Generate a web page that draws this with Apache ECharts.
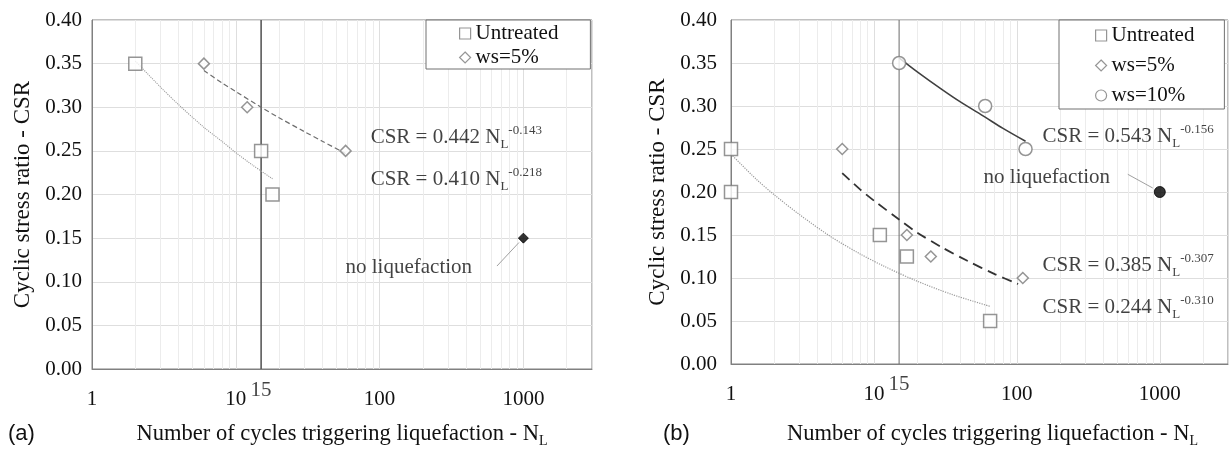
<!DOCTYPE html>
<html><head><meta charset="utf-8">
<script src="https://cdn.jsdelivr.net/npm/echarts@6/dist/echarts.min.js"></script>
<style>html,body{margin:0;padding:0;background:#fff;width:1230px;height:453px;overflow:hidden}
#a,#b{position:absolute;top:0;width:615px;height:453px}#a{left:0}#b{left:615px}</style>
</head><body><div id="a"></div><div id="b"></div>
<script>
// ---------- data: panel (a) ----------
const aUntreated = [[2, 0.35], [15, 0.25], [18, 0.20]];
const aWs5 = [[6, 0.35], [12, 0.30], [58, 0.25]];
const aNoLiq = [[1000, 0.15]];
const aTrendUntreated = [[2, 0.353], [3, 0.323], [4, 0.303], [6, 0.277], [8, 0.261], [10, 0.248], [13, 0.234], [18, 0.218]];
const aTrendWs5 = [[6, 0.342], [8, 0.328], [10, 0.318], [15, 0.300], [20, 0.288], [30, 0.272], [40, 0.261], [58, 0.247]];
const aEqCoef = ['0.442', '0.410'];
const aEqExp = ['-0.143', '-0.218'];
const aEqAnchor = [[86, 0.265], [86, 0.217]];
const aNoLiqAnchor = [57.5, 0.116];
const aLeader = [[655, 0.118], [932, 0.145]];
// ---------- data: panel (b) ----------
const bUntreated = [[1, 0.25], [1, 0.20], [11, 0.15], [17, 0.125], [65, 0.05]];
const bWs5 = [[6, 0.25], [17, 0.15], [25, 0.125], [110, 0.10]];
const bWs10 = [[15, 0.35], [60, 0.30], [115, 0.25]];
const bNoLiq = [[1000, 0.20]];
const bTrendUntreated = [[1, 0.244], [1.5, 0.215], [2, 0.197], [3, 0.174], [5, 0.148], [8, 0.128], [12, 0.113], [20, 0.0964], [35, 0.081], [65, 0.067]];
const bTrendWs5 = [[6, 0.222], [8, 0.203], [10, 0.190], [15, 0.168], [20, 0.153], [30, 0.1355], [45, 0.120], [70, 0.1045], [102, 0.093]];
const bTrendWs10 = [[15, 0.356], [20, 0.340], [30, 0.319], [40, 0.305], [60, 0.287], [80, 0.274], [115, 0.259]];
const bEqCoef = ['0.543', '0.385', '0.244'];
const bEqExp = ['-0.156', '-0.307', '-0.310'];
const bEqAnchor = [[150, 0.265], [150, 0.114], [150, 0.066]];
const bNoLiqAnchor = [58, 0.217];
const bLeader = [[597, 0.2206], [893, 0.2046]];
// ---------- axes ----------
const xTickLabels = [1, 10, 100, 1000];
const xMin = 1, xMax = 3000;
const yMin = 0, yMax = 0.4, yStep = 0.05;
const minorX = [2, 3, 4, 5, 6, 7, 8, 9, 20, 30, 40, 50, 60, 70, 80, 90, 200, 300, 400, 500, 600, 700, 800, 900, 2000];
const markN = 15;
const xTitle = 'Number of cycles triggering liquefaction - N';
const yTitle = 'Cyclic stress ratio - CSR';

const serif = '"Liberation Serif","Times New Roman",serif';
const sans = '"Liberation Sans",Arial,sans-serif';
const txt = '#111';
const richEq = {
  m: {fontFamily: serif, fontSize: 21, lineHeight: 24, color: txt},
  s: {fontFamily: serif, fontSize: 13, lineHeight: 13, padding: [14, 0, 0, 0], color: txt},
  p: {fontFamily: serif, fontSize: 13, lineHeight: 13, padding: [0, 0, 14, 0], color: txt}
};

function makeOption(P) {
  const series = [];
  series.push({type: 'line', data: [[1, 0]], symbol: 'none', silent: true, z: 1, lineStyle: {width: 0},
    markLine: {silent: true, z: 1, symbol: ['none', 'none'], animation: false, label: {show: false},
      lineStyle: {color: '#ececec', width: 1, type: 'solid'}, data: minorX.map(v => ({xAxis: v}))}});
  series.push({type: 'line', data: [[markN, yMin], [markN, yMax]], symbol: 'none', silent: true, z: 2,
    lineStyle: {color: P.vColor, width: P.vWidth}});
  P.trends.forEach(t => series.push({type: 'line', data: t.data, smooth: 0.3, symbol: 'none', silent: true, z: 3, lineStyle: t.style}));
  P.scatters.forEach(s => series.push({name: s.name, type: 'scatter', data: s.data, symbol: s.symbol, symbolSize: s.size, z: 5,
    itemStyle: {color: '#fff', borderColor: '#7a7a7a', borderWidth: 1.5}}));
  series.push({type: 'line', data: P.leader, symbol: 'none', silent: true, z: 3, lineStyle: {color: '#a0a0a0', width: 1}});
  series.push({type: 'scatter', data: P.noLiq, symbol: P.noLiqSymbol, symbolSize: P.noLiqSize, z: 6,
    itemStyle: {color: '#000', borderColor: '#000', borderWidth: 1}});
  const ann = [];
  P.eqAnchor.forEach((a, i) => ann.push({value: a, label: {formatter: '{m|CSR = ' + P.eqCoef[i] + ' N}{s|L}{p|' + P.eqExp[i] + '}', rich: richEq}}));
  ann.push({value: P.noLiqAnchor, label: {formatter: '{m|no liquefaction}', rich: richEq}});
  series.push({type: 'scatter', data: ann, symbolSize: 1, z: 7, silent: true, itemStyle: {color: 'rgba(0,0,0,0)'},
    label: {show: true, position: 'right', distance: 0}});
  series.push({type: 'scatter', data: [[markN, yMin]], symbolSize: 1, z: 7, silent: true, clip: false, itemStyle: {color: 'rgba(0,0,0,0)'},
    label: {show: true, position: 'bottom', distance: P.markLabelDist, formatter: String(markN), fontFamily: serif, fontSize: 21, color: txt}});
  return {
    animation: false,
    backgroundColor: '#fff',
    grid: {left: P.grid[0], top: P.grid[1], width: P.grid[2], height: P.grid[3], show: true, borderColor: '#808080', borderWidth: 1, backgroundColor: 'rgba(0,0,0,0)'},
    legend: {orient: 'vertical', left: P.legend.left, top: P.grid[1], padding: P.legend.padding, itemGap: P.legend.gap, z: 20,
      itemWidth: 11, itemHeight: 11, backgroundColor: '#fff', borderColor: '#707070', borderWidth: 1, selectedMode: false,
      textStyle: {fontFamily: serif, fontSize: 21, color: txt}, data: P.legend.items},
    graphic: [{type: 'text', left: P.tag[0], top: P.tag[1], style: {text: P.tag[2], font: '22px ' + sans, fill: '#111'}}],
    xAxis: {type: 'log', logBase: 10, min: xMin, max: xMax,
      name: '{m|' + xTitle + '}{s|L}', nameLocation: 'middle', nameGap: P.xNameGap,
      nameTextStyle: {padding: P.xNamePad, rich: {m: {fontFamily: serif, fontSize: 22.5, lineHeight: 25, color: txt}, s: {fontFamily: serif, fontSize: 14, lineHeight: 14, padding: [13, 0, 0, 0], color: txt}}},
      axisLine: {show: true, lineStyle: {color: '#808080'}}, axisTick: {show: false},
      axisLabel: {fontFamily: serif, fontSize: 21, color: txt, margin: P.xLabelMargin, showMaxLabel: false,
        formatter: v => { const r = Math.round(v); return xTickLabels.includes(r) && Math.abs(v - r) < 1e-6 * r ? String(r) : ''; }},
      splitLine: {show: true, lineStyle: {color: '#dedede'}}},
    yAxis: {type: 'value', min: yMin, max: yMax, interval: yStep,
      name: yTitle, nameLocation: 'middle', nameRotate: 90, nameGap: P.yNameGap,
      nameTextStyle: {fontFamily: serif, fontSize: 23, color: txt},
      axisLine: {show: true, lineStyle: {color: '#808080'}}, axisTick: {show: false},
      axisLabel: {fontFamily: serif, fontSize: 21, color: txt, margin: P.yLabelMargin, formatter: v => v.toFixed(2)},
      splitLine: {show: true, lineStyle: {color: '#dedede'}}},
    series: series
  };
}

const optA = makeOption({
  grid: [92, 20, 500, 356], vColor: '#5a5a5a', vWidth: 1.6,
  trends: [
    {data: aTrendUntreated, style: {color: '#9a9a9a', width: 1.1, type: 'dotted'}},
    {data: aTrendWs5, style: {color: '#6e6e6e', width: 1.2, type: [5, 3]}}
  ],
  scatters: [
    {name: 'Untreated', data: aUntreated, symbol: 'rect', size: 13},
    {name: 'ws=5%', data: aWs5, symbol: 'diamond', size: 11}
  ],
  leader: aLeader, noLiq: aNoLiq, noLiqSymbol: 'diamond', noLiqSize: 10,
  eqAnchor: aEqAnchor, eqCoef: aEqCoef, eqExp: aEqExp, noLiqAnchor: aNoLiqAnchor,
  legend: {left: 426, padding: [3, 32, 1, 33], gap: 3, items: [
    {name: 'Untreated', icon: 'rect', itemStyle: {color: '#fff', borderColor: '#7a7a7a', borderWidth: 1.2}},
    {name: 'ws=5%', icon: 'diamond', itemStyle: {color: '#fff', borderColor: '#7a7a7a', borderWidth: 1.2}}]},
  tag: [8, 423, '(a)'], xNameGap: 53, xNamePad: [0, 0, 0, 0], xLabelMargin: 20, markLabelDist: 10, yNameGap: 56, yLabelMargin: 10
});
const optB = makeOption({
  grid: [116, 20, 497, 350], vColor: '#6a6a6a', vWidth: 1,
  trends: [
    {data: bTrendUntreated, style: {color: '#9a9a9a', width: 1.2, type: 'dotted'}},
    {data: bTrendWs5, style: {color: '#333', width: 1.8, type: [10, 6]}},
    {data: bTrendWs10, style: {color: '#404040', width: 1.6, type: 'solid'}}
  ],
  scatters: [
    {name: 'Untreated', data: bUntreated, symbol: 'rect', size: 13},
    {name: 'ws=5%', data: bWs5, symbol: 'diamond', size: 11},
    {name: 'ws=10%', data: bWs10, symbol: 'circle', size: 13}
  ],
  leader: bLeader, noLiq: bNoLiq, noLiqSymbol: 'circle', noLiqSize: 11,
  eqAnchor: bEqAnchor, eqCoef: bEqCoef, eqExp: bEqExp, noLiqAnchor: bNoLiqAnchor,
  legend: {left: 444, padding: [5, 30, 3, 36], gap: 9, items: [
    {name: 'Untreated', icon: 'rect', itemStyle: {color: '#fff', borderColor: '#7a7a7a', borderWidth: 1.2}},
    {name: 'ws=5%', icon: 'diamond', itemStyle: {color: '#fff', borderColor: '#7a7a7a', borderWidth: 1.2}},
    {name: 'ws=10%', icon: 'circle', itemStyle: {color: '#fff', borderColor: '#7a7a7a', borderWidth: 1.2}}]},
  tag: [48, 423, '(b)'], xNameGap: 58, xNamePad: [0, 0, 0, 26], xLabelMargin: 20, markLabelDist: 9, yNameGap: 62, yLabelMargin: 14
});
echarts.init(document.getElementById('a'), null, {renderer: 'canvas'}).setOption(optA);
echarts.init(document.getElementById('b'), null, {renderer: 'canvas'}).setOption(optB);
</script></body></html>
